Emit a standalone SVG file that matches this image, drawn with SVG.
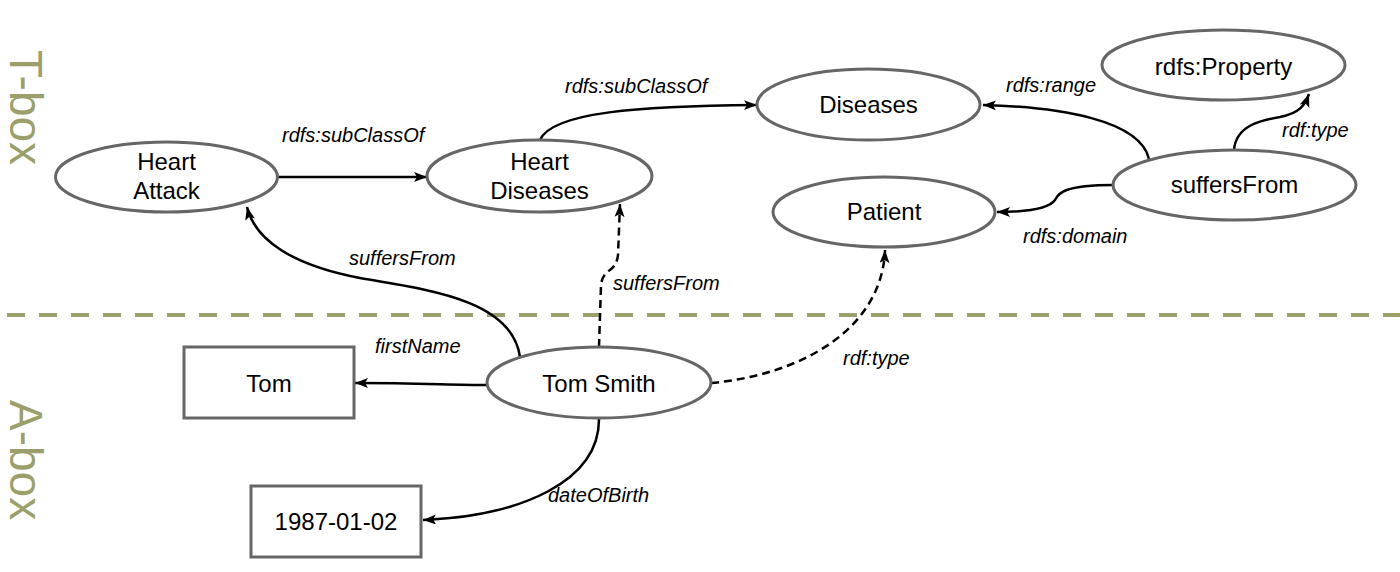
<svg xmlns="http://www.w3.org/2000/svg" width="1400" height="572" viewBox="0 0 1400 572">
<style>
.node{fill:#fff;stroke:#666;stroke-width:3}
.nt{font-family:"Liberation Sans",Arial,sans-serif;font-size:24px;fill:#000;text-anchor:middle}
.lbl{font-family:"Liberation Sans",Arial,sans-serif;font-size:20px;font-style:italic;fill:#000}
.edge{fill:none;stroke:#000;stroke-width:2.5;marker-end:url(#arr)}
.dash{stroke-dasharray:8 5}
.box{font-family:"Liberation Sans",Arial,sans-serif;font-size:46px;fill:#9c9f6b}
</style>
<defs>
<marker id="arr" markerUnits="userSpaceOnUse" markerWidth="14" markerHeight="12" refX="13" refY="5" orient="auto">
<path d="M0,0 L13,5 L0,10 L3,5 Z" fill="#000"/>
</marker>
</defs>
<rect width="1400" height="572" fill="#fff"/>
<g id="separator">
<line x1="7" y1="315" x2="1400" y2="315" stroke="#9c9f6b" stroke-width="4" stroke-dasharray="18 14"/>
<text class="box" transform="translate(10,50) rotate(90)">T-box</text>
<text class="box" transform="translate(10,400) rotate(90)">A-box</text>
</g>
<g id="connectors">
<path class="edge" d="M278,177 L427,177"/>
<text class="lbl" x="282" y="142">rdfs:subClassOf</text>
<path class="edge" d="M540,140 C552,112 640,106 757,105"/>
<text class="lbl" x="565" y="93">rdfs:subClassOf</text>
<path class="edge" d="M520,357 C512,300 430,290 360,278 C292,265 255,240 247,207"/>
<text class="lbl" x="349" y="265">suffersFrom</text>
<path class="edge dash" d="M599,347 L601,285 Q602,275 610,270 Q617,265 618,255 L620,204"/>
<text class="lbl" x="613" y="290">suffersFrom</text>
<path class="edge dash" d="M711,383 C800,375 882,330 885,250"/>
<text class="lbl" x="843" y="365">rdf:type</text>
<path class="edge" d="M487,385 C450,385 420,383 355,383"/>
<text class="lbl" x="375" y="353">firstName</text>
<path class="edge" d="M599,418 C600,482 520,516 423,520"/>
<text class="lbl" x="548" y="502">dateOfBirth</text>
<path class="edge" d="M1149,159 C1140,120 1060,107 983,105"/>
<text class="lbl" x="1006" y="92">rdfs:range</text>
<path class="edge" d="M1113,185 C1060,185 1058,195 1055,200 C1048,210 1020,212 997,212"/>
<text class="lbl" x="1023" y="243">rdfs:domain</text>
<path class="edge" d="M1234,150 C1236,125 1262,120 1280,117 C1300,113 1305,105 1309,94"/>
<text class="lbl" x="1282" y="137">rdf:type</text>
</g>
<g id="heart-attack">
<ellipse class="node" cx="166.5" cy="177" rx="111" ry="35"/>
<text class="nt" x="166.5" y="170">Heart</text>
<text class="nt" x="166.5" y="199">Attack</text>
</g>
<g id="heart-diseases">
<ellipse class="node" cx="539.5" cy="176" rx="112.5" ry="36"/>
<text class="nt" x="539.5" y="170">Heart</text>
<text class="nt" x="539.5" y="199">Diseases</text>
</g>
<g id="diseases">
<ellipse class="node" cx="868.5" cy="104.5" rx="111.5" ry="35.5"/>
<text class="nt" x="868.5" y="113">Diseases</text>
</g>
<g id="patient">
<ellipse class="node" cx="884" cy="212" rx="111" ry="35"/>
<text class="nt" x="884" y="220">Patient</text>
</g>
<g id="rdfs-property">
<ellipse class="node" cx="1223.5" cy="65" rx="121.5" ry="35"/>
<text class="nt" x="1223.5" y="75">rdfs:Property</text>
</g>
<g id="suffersfrom-prop">
<ellipse class="node" cx="1234.5" cy="185" rx="121.5" ry="35"/>
<text class="nt" x="1234.5" y="193">suffersFrom</text>
</g>
<g id="tom-smith">
<ellipse class="node" cx="599" cy="382.5" rx="112" ry="35.5"/>
<text class="nt" x="599" y="392">Tom Smith</text>
</g>
<g id="tom">
<rect class="node" x="184" y="347" width="170" height="71"/>
<text class="nt" x="269" y="392">Tom</text>
</g>
<g id="dob">
<rect class="node" x="251" y="486" width="170" height="71"/>
<text class="nt" x="336" y="530">1987-01-02</text>
</g>
</svg>
